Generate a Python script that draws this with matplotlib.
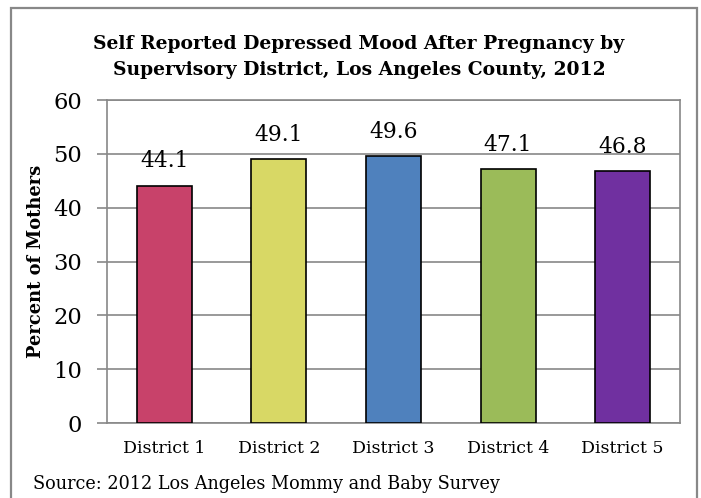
import matplotlib.pyplot as plt
from matplotlib.patches import Rectangle

districts = ['District 1', 'District 2', 'District 3', 'District 4', 'District 5']
percent = [44.1, 49.1, 49.6, 47.1, 46.8]
colors = ['#C8426A', '#D8D865', '#4F81BD', '#9BBB59', '#7030A0']

plt.rcParams['font.family'] = ['DejaVu Serif']

fig = plt.figure(figsize=(7.01, 4.98), dpi=100)
ax = fig.add_axes([0.1526, 0.1506, 0.8174, 0.6485])

x = range(len(districts))
ax.bar(x, percent, width=0.48, color=colors, edgecolor='black', linewidth=1.2, zorder=3)
for i, v in enumerate(percent):
    ax.annotate(f'{v:.1f}', (i, v), xytext=(0, 9.5), textcoords='offset points',
                ha='center', va='bottom', fontsize=15.7)

ax.set_ylim(0, 60)
ax.set_xlim(-0.5, 4.5)
ax.set_yticks(range(0, 61, 10))
ax.set_xticks(list(x))
ax.set_xticklabels(districts, fontsize=12.5)
ax.tick_params(axis='y', labelsize=16.3, length=7, color='#888888', width=1.2, pad=11)
ax.tick_params(axis='x', length=0, pad=12)
ax.yaxis.grid(True, color='#888888', linewidth=1.2, zorder=0)
for s in ['top', 'right', 'left', 'bottom']:
    ax.spines[s].set_color('#888888')
    ax.spines[s].set_linewidth(1.2)
ax.set_ylabel('Percent of Mothers', fontsize=12.9, fontweight='bold', labelpad=6)

fig.text(0.512, 0.886, 'Self Reported Depressed Mood After Pregnancy by\nSupervisory District, Los Angeles County, 2012',
         ha='center', va='center', fontsize=13.5, fontweight='bold', linespacing=1.55)
fig.text(0.047, 0.029, 'Source: 2012 Los Angeles Mommy and Baby Survey', ha='left', va='center',
         fontsize=12.7)

fig.patches.append(Rectangle((0.0157, -0.01), 0.978, 0.994, transform=fig.transFigure,
                             fill=False, edgecolor='#888888', linewidth=1.6))

plt.savefig('out.png', dpi=100)
